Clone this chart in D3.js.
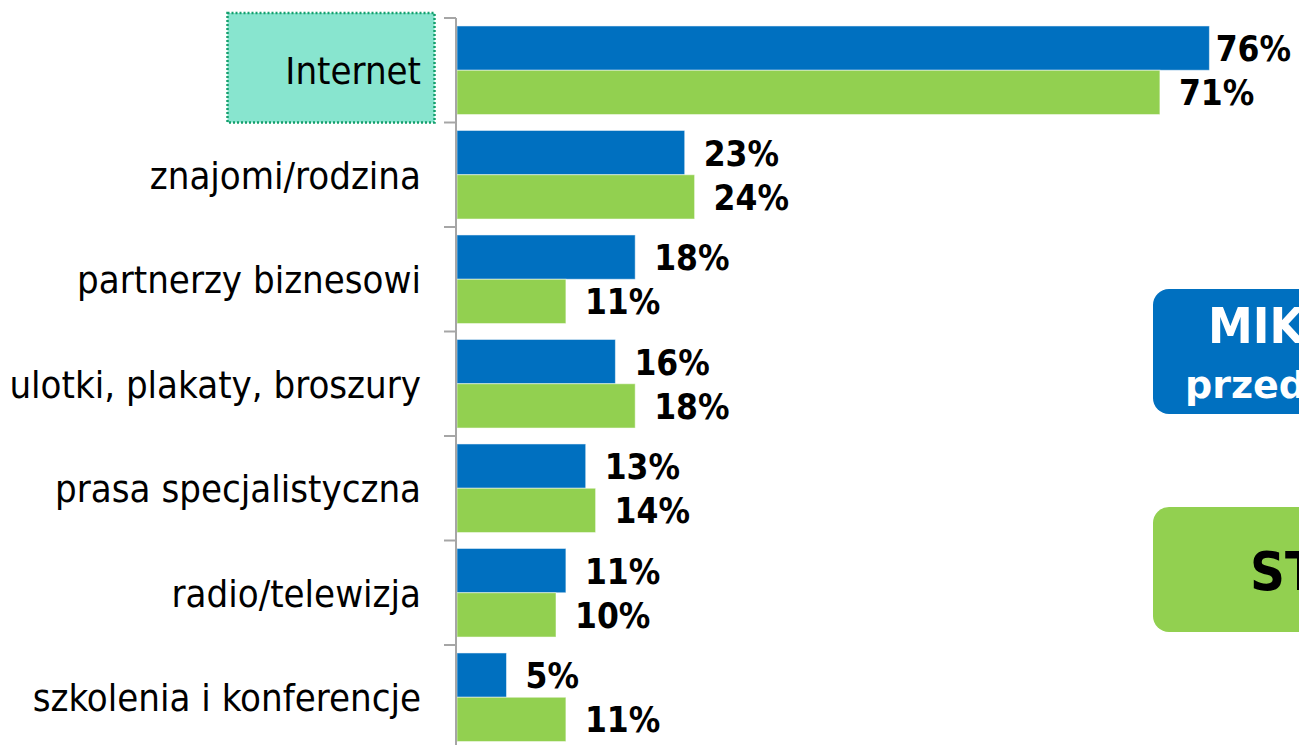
<!DOCTYPE html>
<html>
<head>
<meta charset="utf-8">
<script src="https://cdn.jsdelivr.net/npm/d3@7"></script>
<style>
  html, body { margin: 0; padding: 0; background: #fff; overflow: hidden; }
  svg { display: block; }
</style>
</head>
<body>
<svg id="chart"></svg>
<script>
// Chart data
const categories = [
    "Internet",
    "znajomi/rodzina",
    "partnerzy biznesowi",
    "ulotki, plakaty, broszury",
    "prasa specjalistyczna",
    "radio/telewizja",
    "szkolenia i konferencje"
];
const seriesNames = ["MIKRO", "START"];
const legendSub = ["przedsiębiorstwa", ""];
const microValues = [76, 23, 18, 16, 13, 11, 5];
const startValues = [71, 24, 11, 18, 14, 10, 11];
const highlighted = "Internet";

const W = 1299, H = 745;
const colors = ["#0070C0", "#92D050"];
const font = "'DejaVu Sans Condensed', 'DejaVu Sans', sans-serif";

const svg = d3.select("#chart")
    .attr("width", W)
    .attr("height", H)
    .attr("viewBox", `0 0 ${W} ${H}`)
    .style("font-family", font);

// Scales
const x = d3.scaleLinear().domain([0, 100]).range([457, 1447]);
const y0 = d3.scaleBand().domain(categories).range([18, 749.5]);
const y1 = d3.scaleBand().domain([0, 1]).range([0, y0.bandwidth()]).paddingOuter(0.18);

const rows = categories.map((c, i) => ({
    cat: c,
    vals: [microValues[i], startValues[i]]
}));

// Highlight box behind the "Internet" label
svg.append("rect")
    .attr("x", 227.5)
    .attr("y", y0(highlighted) - 5)
    .attr("width", 207)
    .attr("height", y0.bandwidth() + 5)
    .attr("fill", "#88E5CF")
    .attr("stroke", "#14A06E")
    .attr("stroke-width", 2.5)
    .attr("stroke-dasharray", "2 2");

// Category labels
svg.append("g")
    .selectAll("text")
    .data(categories)
    .join("text")
    .attr("x", 421)
    .attr("y", d => y0(d) + y0.bandwidth() / 2 + 14)
    .attr("text-anchor", "end")
    .attr("font-size", 38)
    .attr("fill", "#000")
    .text(d => d);

// Bars
const groups = svg.append("g")
    .selectAll("g")
    .data(rows)
    .join("g")
    .attr("transform", d => `translate(0,${y0(d.cat)})`);

groups.selectAll("rect")
    .data(d => d.vals.map((v, k) => ({ v, k })))
    .join("rect")
    .attr("x", x(0))
    .attr("y", d => y1(d.k))
    .attr("width", d => x(d.v) - x(0))
    .attr("height", y1.bandwidth())
    .attr("fill", d => colors[d.k])
    .attr("stroke", "#ffffff")
    .attr("stroke-opacity", 0.5)
    .attr("stroke-width", 1);

// Value labels
groups.selectAll("text")
    .data(d => d.vals.map((v, k) => ({ v, k })))
    .join("text")
    .attr("y", d => y1(d.k) + y1.bandwidth() / 2 + 13)
    .attr("font-size", 35)
    .attr("font-weight", "bold")
    .attr("fill", "#000")
    .text(d => d.v + "%")
    .attr("x", function (d) {
        const len = this.getComputedTextLength();
        return Math.min(x(d.v) + 19, W - len - 8);
    });

// Axis line and ticks at category boundaries
const axis = svg.append("g").attr("stroke", "#A6A6A6").attr("stroke-width", 2);
axis.append("line")
    .attr("x1", 456).attr("x2", 456)
    .attr("y1", y0.range()[0]).attr("y2", H);
const bounds = categories.map(c => y0(c)).concat([y0.range()[1]]);
axis.selectAll("line.tick")
    .data(bounds)
    .join("line")
    .attr("class", "tick")
    .attr("x1", 444).attr("x2", 456)
    .attr("y1", d => d).attr("y2", d => d);

// Legend boxes (cut by the right edge of the page, as in the source)
const legendTop = [289, 507];
const legend = svg.append("g")
    .selectAll("g")
    .data(seriesNames.map((s, i) => ({ s, sub: legendSub[i], i })))
    .join("g")
    .attr("transform", d => `translate(1153,${legendTop[d.i]})`);

legend.append("rect")
    .attr("width", 300)
    .attr("height", 125)
    .attr("rx", 16)
    .attr("fill", d => colors[d.i]);

legend.append("text")
    .attr("x", d => d.sub ? 55 : 97)
    .attr("y", d => d.sub ? 54 : 83)
    .attr("font-size", d => d.sub ? 50 : 54)
    .attr("font-weight", "bold")
    .attr("fill", d => d.i === 0 ? "#fff" : "#000")
    .text(d => d.s);

legend.filter(d => d.sub)
    .append("text")
    .attr("x", 32)
    .attr("y", 109)
    .attr("font-family", "'DejaVu Sans', sans-serif")
    .attr("font-size", 38)
    .attr("font-weight", "bold")
    .attr("fill", "#fff")
    .text(d => d.sub);
</script>
</body>
</html>
